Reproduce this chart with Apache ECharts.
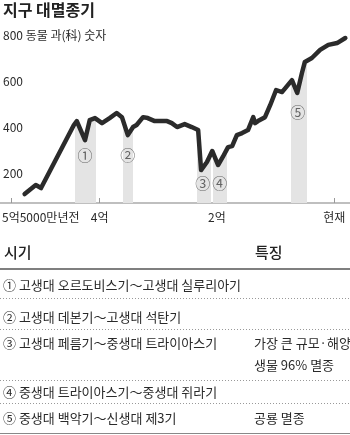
<!DOCTYPE html>
<html><head><meta charset="utf-8">
<script src="https://cdn.jsdelivr.net/npm/echarts@6/dist/echarts.min.js"></script>
<style>html,body{margin:0;padding:0;background:#fff}#c{width:350px;height:435px}</style>
</head><body><div id="c"></div>
<script>
const title = '지구 대멸종기';
const yUnit = '동물 과(科) 숫자';
const yTicks = [200, 400, 600, 800];
const xTicks = [-550, -400, -200, 0];
const xTickLabels = ['5억5000만년전', '4억', '2억', '현재'];
// time in million years relative to present (negative = past)
const timeMa = [-528,-509,-500,-444,-439,-425,-417,-408,-396,-383,-371,-362,-352,-343,-337,-326,-318,-306,-285,-277,-268,-255,-243,-232,-227,-217,-208,-198,-190,-181,-174,-166,-157,-147,-138,-135,-130,-118,-109,-99,-89,-72,-63,-55,-50,-38,-24,-10,5,19];
const familyCount = [109,148,135,409,426,343,430,439,417,439,461,443,365,400,409,443,439,426,426,417,400,413,400,387,213,248,296,235,270,313,317,365,374,387,443,417,426,443,496,561,552,604,548,635,683,700,735,757,765,787];
const bandStart = [-442, -360, -234, -207, -73];
const bandEnd = [-406, -343, -210, -183, -46];
const bandLabels = ['①', '②', '③', '④', '⑤'];
const bandLabelX = [-425, -352, -224, -195, -62];
const bandLabelY = [278, 278, 157, 157, 465];
const tableHeader = ['시기', '특징'];
const periods = [
  '① 고생대 오르도비스기～고생대 실루리아기',
  '② 고생대 데본기～고생대 석탄기',
  '③ 고생대 페름기～중생대 트라이아스기',
  '④ 중생대 트라이아스기～중생대 쥐라기',
  '⑤ 중생대 백악기～신생대 제3기'
];
const features = [[], [], ['가장 큰 규모·해양', '생물 96% 멸종'], [], ['공룡 멸종']];

const FONT = '"Noto Sans CJK KR", "Noto Sans", sans-serif';
const TXT = '#2a2a2a';
const chart = echarts.init(document.getElementById('c'), null, {renderer: 'canvas'});

const lineData = timeMa.map((t, i) => [t, familyCount[i]]);
const labelData = bandLabels.map((s, i) => [bandLabelX[i], bandLabelY[i], s]);

// table graphics
const graphics = [];
graphics.push({type: 'text', left: 3, top: 2, style: {text: title, font: 'bold 16px ' + FONT, fill: '#222'}});
graphics.push({type: 'text', x: 4, y: 252, style: {text: tableHeader[0], font: '500 15px ' + FONT, fill: '#222', verticalAlign: 'middle'}});
graphics.push({type: 'text', x: 255, y: 252, style: {text: tableHeader[1], font: '500 15px ' + FONT, fill: '#222', verticalAlign: 'middle'}});
graphics.push({type: 'line', shape: {x1: 0, y1: 269, x2: 350, y2: 269}, style: {stroke: '#555', lineWidth: 1.5}});
const rowY = [285, 317, 343, 392, 418];
const sepY = [298.5, 329.5, 380.5, 403.5];
periods.forEach((p, i) => {
  graphics.push({type: 'text', x: 3, y: rowY[i], style: {text: p, font: '13px ' + FONT, fill: TXT, verticalAlign: 'middle'}});
  features[i].forEach((f, j) => {
    graphics.push({type: 'text', x: 254, y: rowY[i] + j * 22, style: {text: f, font: '13px ' + FONT, fill: TXT, verticalAlign: 'middle'}});
  });
});
sepY.forEach(y => graphics.push({type: 'line', shape: {x1: 0, y1: y, x2: 350, y2: y}, style: {stroke: '#999', lineWidth: 1, lineDash: [1, 2]}}));
graphics.push({type: 'line', shape: {x1: 0, y1: 433.5, x2: 350, y2: 433.5}, style: {stroke: '#888', lineWidth: 1}});

chart.setOption({
  animation: false,
  backgroundColor: '#fff',
  textStyle: {fontFamily: FONT},
  grid: {left: 0, right: 0, top: 35, bottom: 232, containLabel: false, outerBoundsMode: 'none'},
  xAxis: {
    type: 'value', min: -570, max: 27,
    splitLine: {show: false},
    axisLine: {show: true, lineStyle: {color: '#aaa', width: 1.5}},
    axisTick: {show: true, inside: true, length: 5, customValues: xTicks, lineStyle: {color: '#999'}},
    axisLabel: {
      show: true, customValues: xTicks, margin: 8, color: TXT, fontSize: 12, fontFamily: FONT,
      formatter: v => {
        const i = xTicks.indexOf(v);
        const s = i >= 0 ? xTickLabels[i] : '';
        return i === 0 ? '{first|' + s + '}' : s;
      },
      rich: {first: {padding: [0, 0, 0, 58], fontSize: 12, color: TXT, fontFamily: FONT}}
    }
  },
  yAxis: {
    type: 'value', min: 70, max: 800,
    splitLine: {show: false},
    axisLine: {show: false}, axisTick: {show: false},
    axisLabel: {
      inside: true, margin: 3, color: TXT, fontSize: 12, fontFamily: FONT,
      customValues: yTicks,
      formatter: v => v === 800 ? '800 ' + yUnit : String(v)
    }
  },
  visualMap: {
    type: 'piecewise', show: false, dimension: 0, seriesIndex: 0,
    pieces: bandStart.map((s, i) => ({gte: s, lte: bandEnd[i], color: '#e4e4e4'})),
    outOfRange: {color: 'rgba(255,255,255,0)'}
  },
  series: [
    {
      type: 'line', data: lineData, symbol: 'none', z: 1, silent: true,
      lineStyle: {width: 0, opacity: 0},
      areaStyle: {opacity: 1, origin: 'start'}
    },
    {
      type: 'line', data: lineData, symbol: 'none', z: 3,
      lineStyle: {width: 4.5, color: '#2b2b2b', join: 'round', cap: 'round'}
    },
    {
      type: 'scatter', data: labelData, symbolSize: 0, z: 4,
      label: {show: true, position: 'inside', formatter: p => p.data[2], fontSize: 15, color: '#444', fontFamily: FONT}
    }
  ],
  graphic: graphics
});
</script></body></html>
